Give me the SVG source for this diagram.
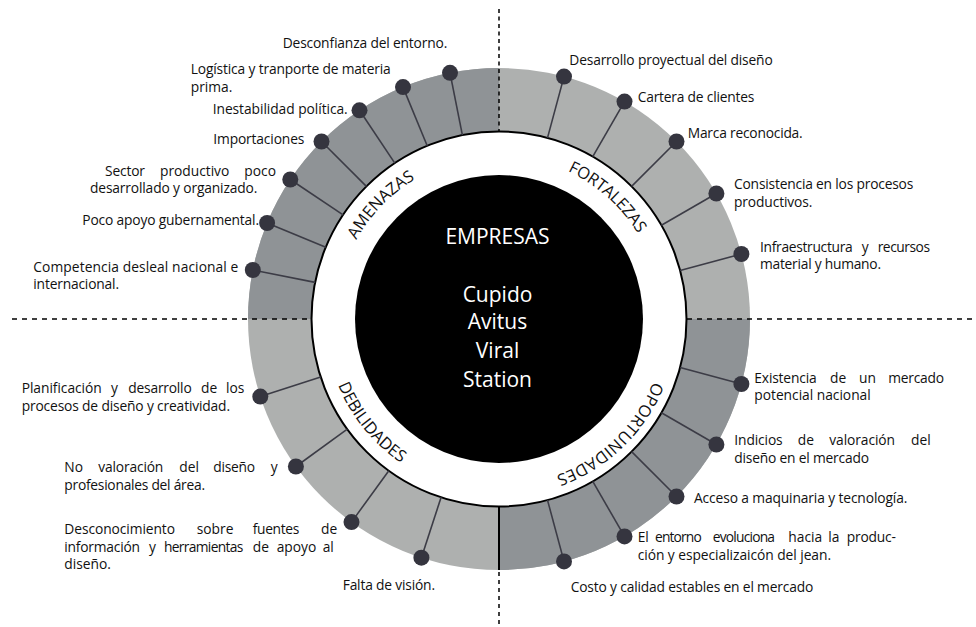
<svg xmlns="http://www.w3.org/2000/svg" width="976" height="627" viewBox="0 0 976 627">
<style>
  text { font-family: "Open Sans", "Noto Sans", sans-serif; }
  .lbl { font-size: 13.8px; fill: #111; }
  .ring { font-size: 16.5px; fill: #111; }
  .ctr { font-size: 21px; fill: #fff; text-anchor: middle; }
  .dot { fill: #35353f; }
  .con line { stroke: #3c3c46; stroke-width: 1.6; }
  .dash { stroke: #000; stroke-width: 1.5; stroke-dasharray: 5 5; fill: none; }
</style>
<defs>
  <path id="pA" d="M342.3,363.9 A163,163 0 0 1 538.4,160.8"/>
  <path id="pF" d="M447.8,164.2 A163,163 0 0 1 658.6,352.1"/>
  <path id="pO" d="M660.6,278.7 A166.5,166.5 0 0 1 453.1,479.1"/>
  <path id="pD" d="M336.6,256.6 A174,174 0 0 0 526.2,490.9"/>
</defs>
<rect width="976" height="627" fill="#fff"/>

<g id="ring">
  <circle cx="499" cy="319" r="251" fill="#aeb0af"/>
  <path d="M499,319 L248,319 A251,251 0 0 1 499,68 Z" fill="#8f9396"/>
  <path d="M499,319 L750,319 A251,251 0 0 1 499,570 Z" fill="#8f9396"/>
  <circle cx="499" cy="319" r="187.5" fill="#fff" stroke="#000" stroke-width="2"/>
</g>

<g id="connectors" class="con">
  <line x1="462.4" y1="135.1" x2="450.0" y2="72.8"/>
  <line x1="427.2" y1="145.8" x2="403.0" y2="87.1"/>
  <line x1="394.8" y1="163.1" x2="359.5" y2="110.3"/>
  <line x1="366.4" y1="186.4" x2="321.5" y2="141.5"/>
  <line x1="343.1" y1="214.8" x2="290.3" y2="179.5"/>
  <line x1="325.8" y1="247.3" x2="267.1" y2="223.0"/>
  <line x1="315.1" y1="282.4" x2="252.8" y2="270.0"/>
  <line x1="547.5" y1="137.9" x2="564.0" y2="76.6"/>
  <line x1="592.75" y1="156.6" x2="624.5" y2="101.6"/>
  <line x1="631.6" y1="186.4" x2="676.5" y2="141.5"/>
  <line x1="661.4" y1="225.25" x2="716.4" y2="193.5"/>
  <line x1="680.1" y1="270.5" x2="741.4" y2="254.0"/>
  <line x1="680.1" y1="367.5" x2="741.4" y2="384.0"/>
  <line x1="661.4" y1="412.75" x2="716.4" y2="444.5"/>
  <line x1="631.6" y1="451.6" x2="676.5" y2="496.5"/>
  <line x1="592.75" y1="481.4" x2="624.5" y2="536.4"/>
  <line x1="547.5" y1="500.1" x2="564.0" y2="561.4"/>
  <line x1="320.7" y1="376.9" x2="260.3" y2="396.6"/>
  <line x1="347.3" y1="429.2" x2="295.9" y2="466.5"/>
  <line x1="388.8" y1="470.7" x2="351.5" y2="522.1"/>
  <line x1="441.1" y1="497.3" x2="421.4" y2="557.7"/>
</g>

<g id="dividers">
  <line class="dash" x1="499" y1="9" x2="499" y2="131.5" style="stroke-dasharray:4 3.5"/>
  <line class="dash" x1="12" y1="319" x2="311" y2="319"/>
  <line class="dash" x1="687" y1="319" x2="976" y2="319"/>
  <line x1="499" y1="506.5" x2="499" y2="570" stroke="#000" stroke-width="2"/>
  <line class="dash" x1="499" y1="572" x2="499" y2="625" style="stroke-dasharray:4 4"/>
</g>

<g id="center">
  <circle cx="499" cy="319" r="144" fill="#000"/>
  <text class="ctr" x="497.5" y="244.3">EMPRESAS</text>
  <text class="ctr" x="497.5" y="301.7">Cupido</text>
  <text class="ctr" x="497.5" y="329.3">Avitus</text>
  <text class="ctr" x="497.5" y="357.7">Viral</text>
  <text class="ctr" x="497.5" y="386.7">Station</text>
</g>

<g id="label-amenazas"><text class="ring"><textPath href="#pA" startOffset="128" textLength="85.3">AMENAZAS</textPath></text></g>
<g id="label-fortalezas"><text class="ring"><textPath href="#pF" startOffset="123" textLength="95.3">FORTALEZAS</textPath></text></g>
<g id="label-oportunidades"><text class="ring"><textPath href="#pO" startOffset="104.6" textLength="139.5">OPORTUNIDADES</textPath></text></g>
<g id="label-debilidades"><text class="ring"><textPath href="#pD" startOffset="131.4" textLength="101.7">DEBILIDADES</textPath></text></g>

<!-- AMENAZAS -->
<g id="a1"><circle class="dot" cx="450.0" cy="72.8" r="8"/><text class="lbl" x="282.7" y="48.3" textLength="164.6">Desconfianza del entorno.</text></g>
<g id="a2"><circle class="dot" cx="403.0" cy="87.1" r="8"/><text class="lbl" x="190.7" y="74" textLength="200">Logística y tranporte de materia</text><text class="lbl" x="190.7" y="92">prima.</text></g>
<g id="a3"><circle class="dot" cx="359.5" cy="110.3" r="8"/><text class="lbl" x="212.7" y="114" textLength="135">Inestabilidad política.</text></g>
<g id="a4"><circle class="dot" cx="321.5" cy="141.5" r="8"/><text class="lbl" x="213.3" y="144" textLength="91">Importaciones</text></g>
<g id="a5"><circle class="dot" cx="290.3" cy="179.5" r="8"/>
  <text class="lbl" x="105" y="175.7" textLength="40">Sector</text><text class="lbl" x="160" y="175.7" textLength="69.3">productivo</text><text class="lbl" x="244.3" y="175.7">poco</text>
  <text class="lbl" x="90" y="193.3" textLength="167.3">desarrollado y organizado.</text></g>
<g id="a6"><circle class="dot" cx="267.1" cy="223.0" r="8"/><text class="lbl" x="82.3" y="225" textLength="176.7">Poco apoyo gubernamental.</text></g>
<g id="a7"><circle class="dot" cx="252.8" cy="270.0" r="8"/><text class="lbl" x="33.3" y="271.7" textLength="205">Competencia desleal nacional e</text><text class="lbl" x="33.3" y="289.3" textLength="85.7">internacional.</text></g>

<!-- FORTALEZAS -->
<g id="f1"><circle class="dot" cx="564.0" cy="76.6" r="8"/><text class="lbl" x="569.3" y="65" textLength="203.4">Desarrollo proyectual del diseño</text></g>
<g id="f2"><circle class="dot" cx="624.5" cy="101.6" r="8"/><text class="lbl" x="637.7" y="101.7" textLength="116.6">Cartera de clientes</text></g>
<g id="f3"><circle class="dot" cx="676.5" cy="141.5" r="8"/><text class="lbl" x="687.7" y="138.3" textLength="115">Marca reconocida.</text></g>
<g id="f4"><circle class="dot" cx="716.4" cy="193.5" r="8"/><text class="lbl" x="734" y="189" textLength="179.3">Consistencia en los procesos</text><text class="lbl" x="734" y="206.7" textLength="78.3">productivos.</text></g>
<g id="f5"><circle class="dot" cx="741.4" cy="254.0" r="8"/>
  <text class="lbl" x="760" y="251.7" textLength="92.7">Infraestructura</text><text class="lbl" x="861.7" y="251.7">y</text><text class="lbl" x="877.7" y="251.7" textLength="52.3">recursos</text>
  <text class="lbl" x="760" y="269.3" textLength="121">material y humano.</text></g>

<!-- OPORTUNIDADES -->
<g id="o1"><circle class="dot" cx="741.4" cy="384.0" r="8"/>
  <text class="lbl" x="754.3" y="382.7" textLength="62.4">Existencia</text><text class="lbl" x="830" y="382.7">de</text><text class="lbl" x="859" y="382.7">un</text><text class="lbl" x="888.3" y="382.7" textLength="55.7">mercado</text>
  <text class="lbl" x="754.3" y="400" textLength="116.4">potencial nacional</text></g>
<g id="o2"><circle class="dot" cx="716.4" cy="444.5" r="8"/>
  <text class="lbl" x="734.3" y="445" textLength="48.4">Indicios</text><text class="lbl" x="797.7" y="445">de</text><text class="lbl" x="829.3" y="445" textLength="65.7">valoración</text><text class="lbl" x="911" y="445">del</text>
  <text class="lbl" x="734.3" y="463.3" textLength="134.7">diseño en el mercado</text></g>
<g id="o3"><circle class="dot" cx="676.5" cy="496.5" r="8"/><text class="lbl" x="694" y="503.3" textLength="213.3">Acceso a maquinaria y tecnología.</text></g>
<g id="o4"><circle class="dot" cx="624.5" cy="536.4" r="8"/>
  <text class="lbl" x="637.7" y="542.3">El</text><text class="lbl" x="655" y="542.3" textLength="46.7">entorno</text><text class="lbl" x="712.7" y="542.3" textLength="62.3">evoluciona</text><text class="lbl" x="788.3" y="542.3">hacia</text><text class="lbl" x="828.3" y="542.3">la</text><text class="lbl" x="846.7" y="542.3" textLength="49.3">produc-</text>
  <text class="lbl" x="637.7" y="560" textLength="193.3">ción y especializaicón del jean.</text></g>
<g id="o5"><circle class="dot" cx="564.0" cy="561.4" r="8"/><text class="lbl" x="570.7" y="591.7" textLength="242.6">Costo y calidad estables en el mercado</text></g>

<!-- DEBILIDADES -->
<g id="d1"><circle class="dot" cx="260.3" cy="396.6" r="8"/>
  <text class="lbl" x="21.7" y="393.3" textLength="80">Planificación</text><text class="lbl" x="111" y="393.3">y</text><text class="lbl" x="128.3" y="393.3" textLength="63.4">desarrollo</text><text class="lbl" x="201" y="393.3">de</text><text class="lbl" x="226" y="393.3">los</text>
  <text class="lbl" x="21.7" y="411" textLength="208.3">procesos de diseño y creatividad.</text></g>
<g id="d2"><circle class="dot" cx="295.9" cy="466.5" r="8"/>
  <text class="lbl" x="64.3" y="471.7">No</text><text class="lbl" x="98.3" y="471.7" textLength="65">valoración</text><text class="lbl" x="179.3" y="471.7">del</text><text class="lbl" x="213.3" y="471.7" textLength="41.7">diseño</text><text class="lbl" x="270.7" y="471.7">y</text>
  <text class="lbl" x="64.3" y="490" textLength="140.7">profesionales del área.</text></g>
<g id="d3"><circle class="dot" cx="351.5" cy="522.1" r="8"/>
  <text class="lbl" x="64.3" y="534" textLength="110.7">Desconocimiento</text><text class="lbl" x="196.7" y="534">sobre</text><text class="lbl" x="252.7" y="534" textLength="46.6">fuentes</text><text class="lbl" x="321" y="534">de</text>
  <text class="lbl" x="64.3" y="551.7" textLength="75.7">información</text><text class="lbl" x="149" y="551.7">y</text><text class="lbl" x="164" y="551.7" textLength="79.3">herramientas</text><text class="lbl" x="252.7" y="551.7">de</text><text class="lbl" x="276.7" y="551.7">apoyo</text><text class="lbl" x="322.7" y="551.7">al</text>
  <text class="lbl" x="64.3" y="569.3">diseño.</text></g>
<g id="d4"><circle class="dot" cx="421.4" cy="557.7" r="8"/><text class="lbl" x="342.7" y="590" textLength="92.3">Falta de visión.</text></g>
</svg>
